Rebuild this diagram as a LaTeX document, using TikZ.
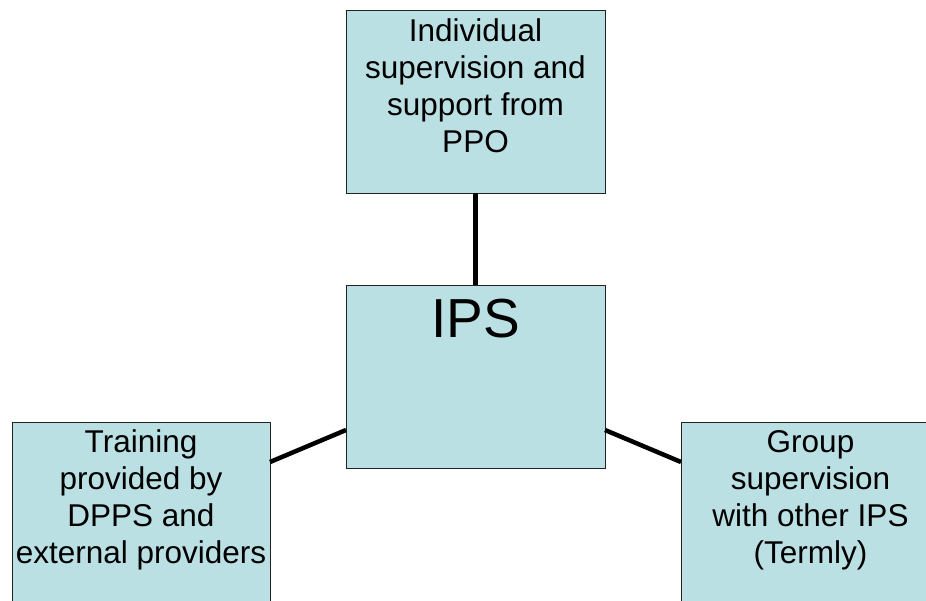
\documentclass[tikz,border=0pt]{standalone}
\usepackage{fontspec}
\setmainfont{Liberation Sans}
\definecolor{boxfill}{HTML}{BBE0E3}
\definecolor{boxline}{HTML}{222222}
\newcommand{\boxtxt}[4]{\parbox[c][183pt][t]{#1}{\centering\fontsize{#2}{37}\selectfont\rule{0pt}{#3}#4}}
\tikzset{
  box/.style={draw=boxline, line width=1pt, fill=boxfill, inner sep=0pt, outer sep=0pt},
  conn/.style={draw=black, line width=4.5pt}
}
\begin{document}
\begin{tikzpicture}[x=1pt,y=-1pt]
\useasboundingbox (0,0) rectangle (926,600);
\clip (0,0) rectangle (926,600);
\node[box] (top) at (475.5,101.5) {\boxtxt{259pt}{31.5}{31.5pt}{Individual\\supervision and\\support from\\PPO}};
\node[box] (ips) at (475.5,376.5) {\boxtxt{259pt}{55}{52pt}{IPS}};
\node[box] (train) at (141,513.5) {\boxtxt{258pt}{31.5}{30.5pt}{Training\\provided by\\DPPS and\\external providers}};
\node[box] (group) at (810.5,513.5) {\boxtxt{259pt}{31.5}{30.5pt}{Group\\supervision\\with other IPS\\(Termly)}};
\draw[conn] (top.south) -- (ips.north);
\draw[conn] ([yshift=-40pt]train.north east) -- ([yshift=-53.5pt]ips.west);
\draw[conn] ([yshift=-53.5pt]ips.east) -- ([yshift=-40pt]group.north west);
\end{tikzpicture}
\end{document}
